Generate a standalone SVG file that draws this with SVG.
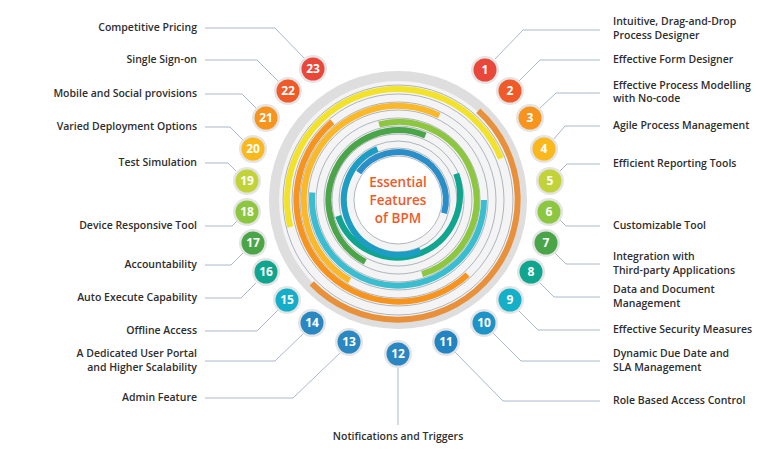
<svg xmlns="http://www.w3.org/2000/svg" width="768" height="468" viewBox="0 0 768 468">
<style>
.t{font-family:"Open Sans","Liberation Sans",sans-serif;font-weight:600;font-size:10.5px;fill:#2e2e2e}
.r{text-anchor:end}
.n{font-family:"Open Sans","Liberation Sans",sans-serif;font-weight:700;font-size:12px;fill:#fff;text-anchor:middle}
.c{font-family:"Open Sans","Liberation Sans",sans-serif;font-weight:600;font-size:13.5px;fill:#f05a28;text-anchor:middle}
.ld{fill:none;stroke:#aab8cc;stroke-width:1}
.ring{fill:none;stroke:#8f98a8;stroke-width:0.7}
.arc{fill:none;stroke-width:6}
.bg{fill:#e4e4e4}
</style>
<rect width="768" height="468" fill="#fff"/>
<g id="connectors">
<polyline class="ld" points="495,59 523,30 600,30"/>
<polyline class="ld" points="518,82 540,60 600,60"/>
<polyline class="ld" points="540,108 556,93 600,93"/>
<polyline class="ld" points="553,140 565,126 600,126"/>
<polyline class="ld" points="560,171 567,164 600,164"/>
<polyline class="ld" points="560,220 566,226 600,226"/>
<polyline class="ld" points="555,253 566,264 600,264"/>
<polyline class="ld" points="540,283 554,297 600,297"/>
<polyline class="ld" points="518,310 538,330 600,330"/>
<polyline class="ld" points="493,333 521,361 600,361"/>
<polyline class="ld" points="455,352 503,401 600,401"/>
<polyline class="ld" points="398,367 398,425"/>
<polyline class="ld" points="341,352 293,398 205,398"/>
<polyline class="ld" points="304,333 275,361 205,361"/>
<polyline class="ld" points="278,310 257,331 205,331"/>
<polyline class="ld" points="256,283 241,298 205,298"/>
<polyline class="ld" points="243,253 231,265 205,265"/>
<polyline class="ld" points="238,220 232,226 205,226"/>
<polyline class="ld" points="236,171 228,163 205,163"/>
<polyline class="ld" points="243,140 230,127 205,127"/>
<polyline class="ld" points="256,108 242,94 205,94"/>
<polyline class="ld" points="279,82 257,60 205,60"/>
<polyline class="ld" points="305,59 275,28 205,28"/>
</g>
<g id="hub">
<circle cx="398" cy="200" r="129" fill="#dedede"/>
<circle cx="398" cy="200" r="119" fill="#f4f4f4"/>
<circle cx="398" cy="200" r="44" fill="#fff"/>
<circle class="ring" cx="398" cy="200" r="44"/>
<circle class="ring" cx="398" cy="200" r="52"/>
<circle class="ring" cx="398" cy="200" r="59"/>
<circle class="ring" cx="398" cy="200" r="66"/>
<circle class="ring" cx="398" cy="200" r="74"/>
<circle class="ring" cx="398" cy="200" r="82"/>
<circle class="ring" cx="398" cy="200" r="90"/>
<circle class="ring" cx="398" cy="200" r="98"/>
<circle class="ring" cx="398" cy="200" r="106"/>
<circle class="ring" cx="398" cy="200" r="115"/>
<path class="arc" stroke="#e8913a" d="M478.3,110.8 A120,120 0 1 1 311.7,283.4"/>
<path class="arc" stroke="#f3e22a" d="M290.3,226.9 A111,111 0 0 1 500.9,158.4"/>
<path class="arc" stroke="#f7941d" d="M467.6,274.6 A102,102 0 1 1 332.4,121.9"/>
<path class="arc" stroke="#fbb829" d="M349.6,280.6 A94,94 0 0 1 439.2,115.5"/>
<path class="arc" stroke="#3bbdd0" d="M484,200 A86,86 0 1 1 312.3,192.5"/>
<path class="arc" stroke="#8dc63f" d="M379.1,124.3 A78,78 0 0 1 422.1,274.2"/>
<path class="arc" stroke="#4aa548" d="M365.2,261.8 A70,70 0 0 1 425.4,135.6"/>
<path class="arc" stroke="#0fa58f" d="M456.2,173.8 A62,62 0 1 1 338.1,216.1"/>
<path class="arc" stroke="#1c9ec4" d="M420.4,250.3 A55,55 0 1 1 377.4,149"/>
<path class="arc" stroke="#2a8fc8" d="M358.7,172.4 A48,48 0 0 1 444.1,213.2"/>
<text class="c" x="398" y="187">Essential</text>
<text class="c" x="398" y="205">Features</text>
<text class="c" x="398" y="223">of BPM</text>
</g>
<g id="n1"><circle class="bg" cx="485" cy="70" r="14"/><circle cx="485" cy="70" r="11.5" fill="#e8473a"/><text class="n" x="485" y="74">1</text><text class="t" x="613" y="25">Intuitive, Drag-and-Drop</text><text class="t" x="613" y="38.5">Process Designer</text></g>
<g id="n2"><circle class="bg" cx="510" cy="91" r="14"/><circle cx="510" cy="91" r="11.5" fill="#f05a28"/><text class="n" x="510" y="95">2</text><text class="t" x="613" y="63">Effective Form Designer</text></g>
<g id="n3"><circle class="bg" cx="530" cy="118" r="14"/><circle cx="530" cy="118" r="11.5" fill="#f7941d"/><text class="n" x="530" y="122">3</text><text class="t" x="613" y="88.5">Effective Process Modelling</text><text class="t" x="613" y="102">with No-code</text></g>
<g id="n4"><circle class="bg" cx="544" cy="149" r="14"/><circle cx="544" cy="149" r="11.5" fill="#fbb81d"/><text class="n" x="544" y="153">4</text><text class="t" x="613" y="129">Agile Process Management</text></g>
<g id="n5"><circle class="bg" cx="550" cy="181" r="14"/><circle cx="550" cy="181" r="11.5" fill="#c2d33a"/><text class="n" x="550" y="185">5</text><text class="t" x="613" y="167">Efficient Reporting Tools</text></g>
<g id="n6"><circle class="bg" cx="549" cy="212" r="14"/><circle cx="549" cy="212" r="11.5" fill="#8dc63f"/><text class="n" x="549" y="216">6</text><text class="t" x="613" y="229">Customizable Tool</text></g>
<g id="n7"><circle class="bg" cx="546" cy="243" r="14"/><circle cx="546" cy="243" r="11.5" fill="#4aa548"/><text class="n" x="546" y="247">7</text><text class="t" x="613" y="260">Integration with</text><text class="t" x="613" y="273.5">Third-party Applications</text></g>
<g id="n8"><circle class="bg" cx="531" cy="272" r="14"/><circle cx="531" cy="272" r="11.5" fill="#0fa58f"/><text class="n" x="531" y="276">8</text><text class="t" x="613" y="293">Data and Document</text><text class="t" x="613" y="306.5">Management</text></g>
<g id="n9"><circle class="bg" cx="510" cy="300" r="14"/><circle cx="510" cy="300" r="11.5" fill="#13b0c8"/><text class="n" x="510" y="304">9</text><text class="t" x="613" y="333">Effective Security Measures</text></g>
<g id="n10"><circle class="bg" cx="484" cy="323" r="14"/><circle cx="484" cy="323" r="11.5" fill="#1e93c7"/><text class="n" x="484" y="327">10</text><text class="t" x="613" y="357">Dynamic Due Date and</text><text class="t" x="613" y="370.5">SLA Management</text></g>
<g id="n11"><circle class="bg" cx="446" cy="342" r="14"/><circle cx="446" cy="342" r="11.5" fill="#2484c1"/><text class="n" x="446" y="346">11</text><text class="t" x="613" y="404">Role Based Access Control</text></g>
<g id="n12"><circle class="bg" cx="398" cy="354" r="14"/><circle cx="398" cy="354" r="11.5" fill="#2a87c2"/><text class="n" x="398" y="358">12</text><text class="t" x="398" y="440" text-anchor="middle">Notifications and Triggers</text></g>
<g id="n13"><circle class="bg" cx="349" cy="342" r="14"/><circle cx="349" cy="342" r="11.5" fill="#2a87c2"/><text class="n" x="349" y="346">13</text><text class="t r" x="197" y="401">Admin Feature</text></g>
<g id="n14"><circle class="bg" cx="312" cy="323" r="14"/><circle cx="312" cy="323" r="11.5" fill="#2a87c2"/><text class="n" x="312" y="327">14</text><text class="t r" x="197" y="357">A Dedicated User Portal</text><text class="t r" x="197" y="370.5">and Higher Scalability</text></g>
<g id="n15"><circle class="bg" cx="287" cy="300" r="14"/><circle cx="287" cy="300" r="11.5" fill="#14aec8"/><text class="n" x="287" y="304">15</text><text class="t r" x="197" y="334">Offline Access</text></g>
<g id="n16"><circle class="bg" cx="266" cy="272" r="14"/><circle cx="266" cy="272" r="11.5" fill="#0fa58f"/><text class="n" x="266" y="276">16</text><text class="t r" x="197" y="301">Auto Execute Capability</text></g>
<g id="n17"><circle class="bg" cx="253" cy="243" r="14"/><circle cx="253" cy="243" r="11.5" fill="#4aa548"/><text class="n" x="253" y="247">17</text><text class="t r" x="197" y="268">Accountability</text></g>
<g id="n18"><circle class="bg" cx="247" cy="212" r="14"/><circle cx="247" cy="212" r="11.5" fill="#8dc63f"/><text class="n" x="247" y="216">18</text><text class="t r" x="197" y="229">Device Responsive Tool</text></g>
<g id="n19"><circle class="bg" cx="247" cy="181" r="14"/><circle cx="247" cy="181" r="11.5" fill="#c2d33a"/><text class="n" x="247" y="185">19</text><text class="t r" x="197" y="166">Test Simulation</text></g>
<g id="n20"><circle class="bg" cx="253" cy="149" r="14"/><circle cx="253" cy="149" r="11.5" fill="#fbb81d"/><text class="n" x="253" y="153">20</text><text class="t r" x="197" y="130">Varied Deployment Options</text></g>
<g id="n21"><circle class="bg" cx="266" cy="118" r="14"/><circle cx="266" cy="118" r="11.5" fill="#f7941d"/><text class="n" x="266" y="122">21</text><text class="t r" x="197" y="97">Mobile and Social provisions</text></g>
<g id="n22"><circle class="bg" cx="288" cy="91" r="14"/><circle cx="288" cy="91" r="11.5" fill="#f05a28"/><text class="n" x="288" y="95">22</text><text class="t r" x="197" y="63">Single Sign-on</text></g>
<g id="n23"><circle class="bg" cx="313" cy="69" r="14"/><circle cx="313" cy="69" r="11.5" fill="#e8473a"/><text class="n" x="313" y="73">23</text><text class="t r" x="197" y="31">Competitive Pricing</text></g>
</svg>
